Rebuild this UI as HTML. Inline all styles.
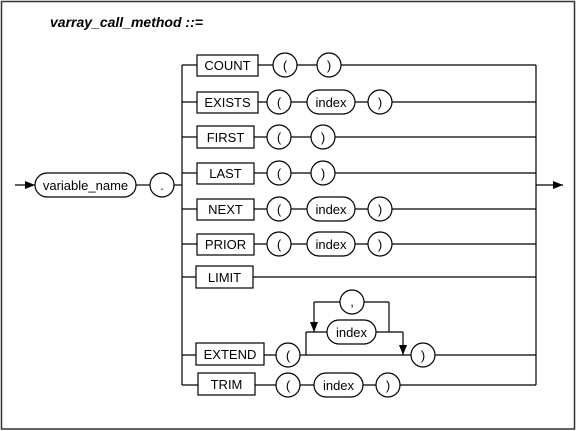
<!DOCTYPE html>
<html><head><meta charset="utf-8"><style>
html,body{margin:0;padding:0;background:#fff;}
svg{display:block;}
text{font-family:"Liberation Sans",Arial,sans-serif;font-size:13px;fill:#000;}
</style></head><body>
<svg width="576" height="431" viewBox="0 0 576 431" xmlns="http://www.w3.org/2000/svg">
<defs>
<marker id="a" markerWidth="10" markerHeight="8" refX="10" refY="4" orient="auto" markerUnits="userSpaceOnUse">
<path d="M0,0 L10,4 L0,8 Z" fill="#000"/></marker>
</defs>
<rect x="1.5" y="1.5" width="573" height="427.5" fill="none" stroke="#333" stroke-width="1.5"/>
<text x="50" y="27" style="font-weight:bold;font-style:italic;font-size:14px">varray_call_method ::=</text>
<g stroke="#000" stroke-width="1.2" fill="none">
<!-- main -->
<line x1="15" y1="185" x2="35" y2="185" marker-end="url(#a)"/>
<line x1="136" y1="185" x2="150" y2="185"/>
<line x1="174" y1="185" x2="182" y2="185"/>
<line x1="182" y1="65" x2="182" y2="385"/>
<line x1="536" y1="65" x2="536" y2="385"/>
<line x1="536" y1="185" x2="563" y2="185" marker-end="url(#a)"/>
<!-- row lines -->
<line x1="182" y1="65" x2="536" y2="65"/>
<line x1="182" y1="102" x2="536" y2="102"/>
<line x1="182" y1="137" x2="536" y2="137"/>
<line x1="182" y1="173" x2="536" y2="173"/>
<line x1="182" y1="209" x2="536" y2="209"/>
<line x1="182" y1="244" x2="536" y2="244"/>
<line x1="182" y1="277" x2="536" y2="277"/>
<line x1="182" y1="355" x2="306" y2="355"/>
<line x1="306" y1="355" x2="403" y2="355"/>
<line x1="403" y1="355" x2="536" y2="355"/>
<line x1="182" y1="385" x2="536" y2="385"/>
<!-- extend loop -->
<line x1="306" y1="332" x2="306" y2="355"/>
<line x1="306" y1="332" x2="403" y2="332"/>
<line x1="403" y1="332" x2="403" y2="355" marker-end="url(#a)"/>
<line x1="314" y1="302" x2="389" y2="302"/>
<line x1="389" y1="302" x2="389" y2="332"/>
<line x1="314" y1="302" x2="314" y2="332" marker-end="url(#a)"/>
</g>
<g stroke="#000" stroke-width="1.2" fill="#fff">
<rect x="35" y="173" width="101" height="24" rx="12"/>
<circle cx="162" cy="185" r="12"/>
<rect x="197" y="55" width="61" height="21"/>
<rect x="197" y="92" width="61" height="21"/>
<rect x="197" y="126" width="57" height="22"/>
<rect x="197" y="163" width="57" height="21"/>
<rect x="197" y="199" width="57" height="21"/>
<rect x="197" y="234" width="57" height="21"/>
<rect x="196" y="266" width="57" height="22"/>
<rect x="196" y="343" width="68" height="22"/>
<rect x="198" y="373" width="57" height="22"/>
<!-- circles -->
<circle cx="285" cy="65" r="12"/><circle cx="329" cy="65" r="12"/>
<circle cx="279" cy="102" r="12"/><rect x="307" y="90" width="48" height="24" rx="12"/><circle cx="380" cy="102" r="12"/>
<circle cx="279" cy="137" r="12"/><circle cx="323" cy="137" r="12"/>
<circle cx="279" cy="173" r="12"/><circle cx="323" cy="173" r="12"/>
<circle cx="279" cy="209" r="12"/><rect x="307" y="197" width="48" height="24" rx="12"/><circle cx="380" cy="209" r="12"/>
<circle cx="279" cy="244" r="12"/><rect x="307" y="232" width="48" height="24" rx="12"/><circle cx="380" cy="244" r="12"/>
<circle cx="288" cy="355" r="12"/>
<rect x="327" y="320" width="49" height="24" rx="12"/>
<circle cx="352" cy="302" r="12"/>
<circle cx="423" cy="355" r="12"/>
<circle cx="288" cy="385" r="12"/><rect x="314" y="373" width="49" height="24" rx="12"/><circle cx="388" cy="385" r="12"/>
</g>
<g text-anchor="middle">
<text x="85.5" y="190">variable_name</text>
<text x="162" y="190">.</text>
<text x="227.5" y="70">COUNT</text>
<text x="227.5" y="107">EXISTS</text>
<text x="225.5" y="142">FIRST</text>
<text x="225.5" y="178">LAST</text>
<text x="225.5" y="214">NEXT</text>
<text x="225.5" y="249">PRIOR</text>
<text x="224.5" y="282">LIMIT</text>
<text x="230" y="359">EXTEND</text>
<text x="226.5" y="389">TRIM</text>
<text x="285" y="70">(</text><text x="329" y="70">)</text>
<text x="279" y="107">(</text><text x="331" y="107">index</text><text x="380" y="107">)</text>
<text x="279" y="142">(</text><text x="323" y="142">)</text>
<text x="279" y="178">(</text><text x="323" y="178">)</text>
<text x="279" y="214">(</text><text x="331" y="214">index</text><text x="380" y="214">)</text>
<text x="279" y="249">(</text><text x="331" y="249">index</text><text x="380" y="249">)</text>
<text x="288" y="360">(</text>
<text x="351.5" y="337">index</text>
<text x="352" y="306">,</text>
<text x="423" y="360">)</text>
<text x="288" y="390">(</text><text x="338.5" y="390">index</text><text x="388" y="390">)</text>
</g>
</svg>
</body></html>
